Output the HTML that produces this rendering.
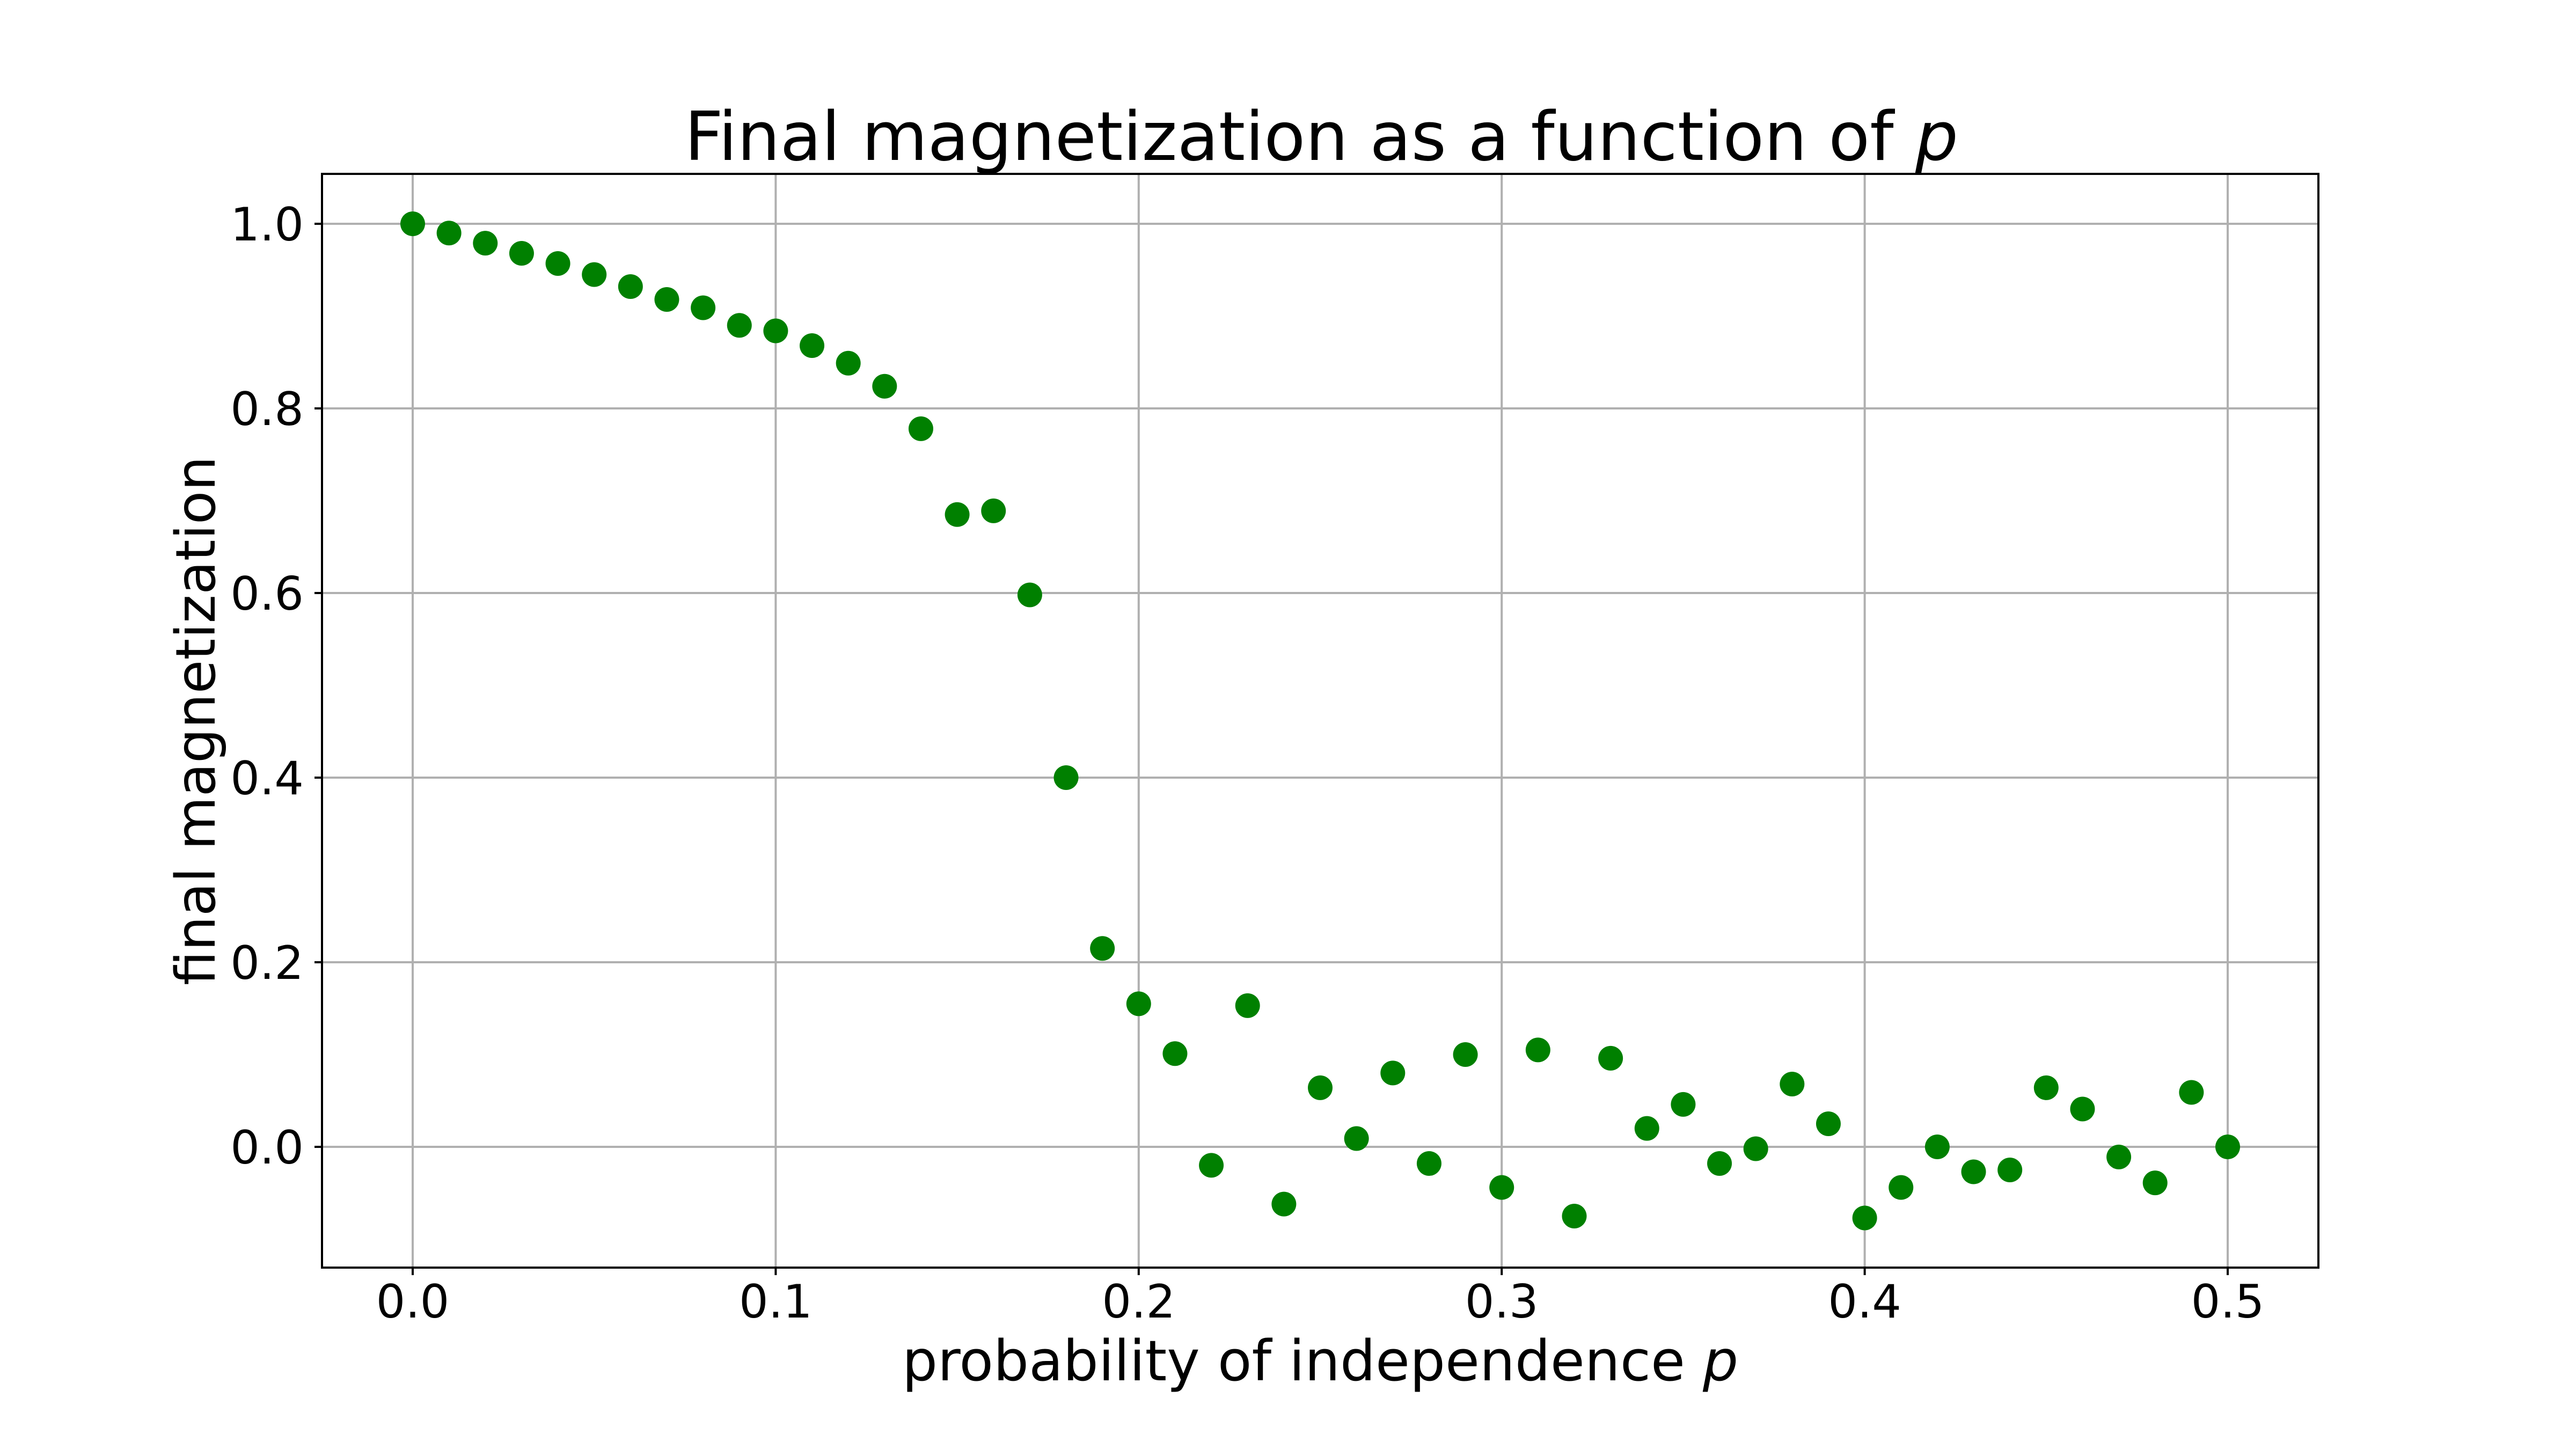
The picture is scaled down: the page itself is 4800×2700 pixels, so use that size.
<!DOCTYPE html>
<html><head><meta charset="utf-8"><style>
html,body{margin:0;padding:0;background:#fff}
svg{display:block}
text{font-family:"DejaVu Sans","Liberation Sans",sans-serif;fill:#000}
</style></head><body>
<svg id="chart" width="4800" height="2700" viewBox="0 0 4800 2700" xmlns="http://www.w3.org/2000/svg">
<rect width="4800" height="2700" fill="#fff"/>
<g id="grid"></g>
<g id="points"></g>
<rect x="600" y="324" width="3720" height="2038" fill="none" stroke="#000" stroke-width="4"/>
<g id="ticks"></g>
<text x="2462" y="298" font-size="126" text-anchor="middle">Final magnetization as a function of <tspan font-style="italic">p</tspan></text>
<text x="2460" y="2572" font-size="104" text-anchor="middle">probability of independence <tspan font-style="italic">p</tspan></text>
<text transform="translate(400,1343) rotate(-90)" font-size="102" text-anchor="middle">final magnetization</text>
</svg>
<script>
const pValues = [0,0.01,0.02,0.03,0.04,0.05,0.06,0.07,0.08,0.09,0.10,0.11,0.12,0.13,0.14,0.15,0.16,0.17,0.18,0.19,0.20,0.21,0.22,0.23,0.24,0.25,0.26,0.27,0.28,0.29,0.30,0.31,0.32,0.33,0.34,0.35,0.36,0.37,0.38,0.39,0.40,0.41,0.42,0.43,0.44,0.45,0.46,0.47,0.48,0.49,0.50];
const magnetization = [1.0,0.99,0.979,0.968,0.957,0.945,0.932,0.918,0.909,0.89,0.884,0.868,0.849,0.824,0.778,0.685,0.689,0.598,0.40,0.215,0.155,0.101,-0.02,0.153,-0.062,0.064,0.009,0.08,-0.018,0.10,-0.044,0.105,-0.075,0.096,0.02,0.046,-0.018,-0.002,0.068,0.025,-0.077,-0.044,0.0,-0.027,-0.025,0.064,0.041,-0.011,-0.039,0.059,0.0];
const xTicks = [0,0.1,0.2,0.3,0.4,0.5];
const xTickLabels = ["0.0","0.1","0.2","0.3","0.4","0.5"];
const yTicks = [0,0.2,0.4,0.6,0.8,1.0];
const yTickLabels = ["0.0","0.2","0.4","0.6","0.8","1.0"];

const NS = "http://www.w3.org/2000/svg";
function xs(v){ return 769 + v * 6764; }
function ys(v){ return 2137 - v * 1720; }
function mk(tag, attrs){ const e = document.createElementNS(NS, tag); for (const k in attrs) e.setAttribute(k, attrs[k]); return e; }
const grid = document.getElementById('grid');
const ticks = document.getElementById('ticks');
const pts = document.getElementById('points');

xTicks.forEach((t, i) => {
  const x = xs(t);
  const g = mk('line', {x1:x, x2:x, y1:324, y2:2362, stroke:'#b0b0b0', 'stroke-width':4});
  
  
  grid.appendChild(g);
  const tk = mk('line', {x1:x, x2:x, y1:2362, y2:2376, stroke:'#000', 'stroke-width':4});
  
  
  ticks.appendChild(tk);
  const lb = mk('text', {x:x, y:2455, 'font-size':86, 'text-anchor':'middle'});
  lb.textContent = xTickLabels[i];
  
  
  ticks.appendChild(lb);
});
yTicks.forEach((t, i) => {
  const y = ys(t);
  const g = mk('line', {x1:600, x2:4320, y1:y, y2:y, stroke:'#b0b0b0', 'stroke-width':4});
  
  
  grid.appendChild(g);
  const tk = mk('line', {x1:586, x2:600, y1:y, y2:y, stroke:'#000', 'stroke-width':4});
  
  
  ticks.appendChild(tk);
  const lb = mk('text', {x:566, y:y + 31, 'font-size':86, 'text-anchor':'end'});
  lb.textContent = yTickLabels[i];
  
  
  ticks.appendChild(lb);
});
pValues.forEach((p, i) => {
  const c = mk('circle', {cx:xs(p), cy:ys(magnetization[i]), r:23, fill:'#008000'});
  
  
  pts.appendChild(c);
});
</script>
</body></html>
